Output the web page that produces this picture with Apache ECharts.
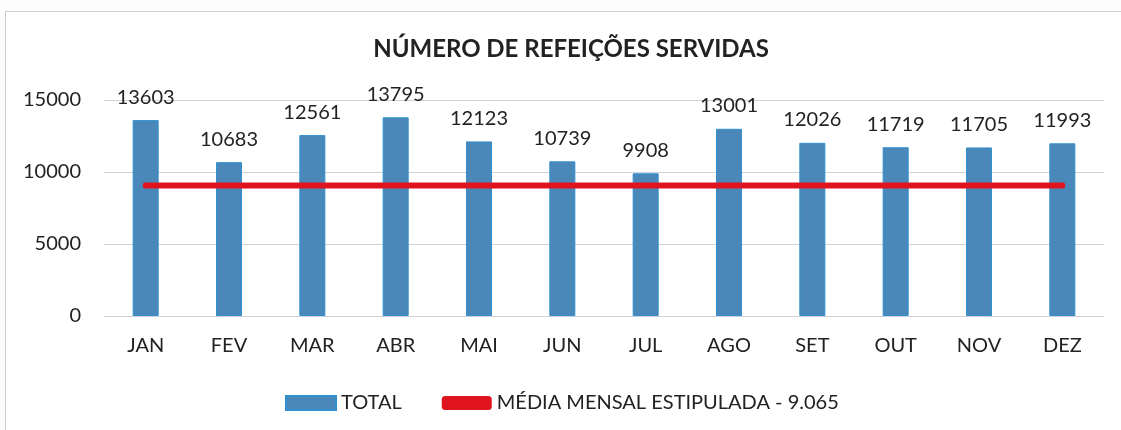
<!DOCTYPE html>
<html lang="pt">
<head>
    <meta charset="UTF-8">
    <title>Número de refeições servidas</title>
    <script src="https://cdn.jsdelivr.net/npm/echarts@6/dist/echarts.min.js"></script>
    <style>
        body { margin: 0; background: #fdfdfd; overflow: hidden; }
        #chart {
            position: absolute;
            left: 5px; top: 11px;
            width: 1132px; height: 430px;
            border: 1px solid #c9ccd2;
            box-sizing: border-box;
            background: #fff;
        }
    </style>
</head>
<body>
<div id="chart"></div>
<script>
const months = ['JAN', 'FEV', 'MAR', 'ABR', 'MAI', 'JUN', 'JUL', 'AGO', 'SET', 'OUT', 'NOV', 'DEZ'];
const totals = [13603, 10683, 12561, 13795, 12123, 10739, 9908, 13001, 12026, 11719, 11705, 11993];
const target = 9065;
const targetLine = months.map(() => target);
const yTicks = { min: 0, max: 15000, interval: 5000 };

const font = 'Lato, "Open Sans", sans-serif';
const chart = echarts.init(document.getElementById('chart'));
chart.setOption({
    animation: false,
    textStyle: { fontFamily: font },
    title: {
        text: 'NÚMERO DE REFEIÇÕES SERVIDAS',
        left: 'center', top: 20,
        textStyle: { fontSize: 24, fontWeight: 'bold', color: '#222', fontFamily: font }
    },
    grid: { left: 98, right: 32, top: 88, bottom: 124, containLabel: false },
    legend: {
        top: 376, left: 274,
        itemGap: 40,
        textStyle: { fontSize: 20, color: '#222' },
        data: [
            { name: 'TOTAL', icon: 'rect', itemWidth: 50, itemHeight: 14 },
            { name: 'MÉDIA MENSAL ESTIPULADA - 9.065', icon: 'roundRect', itemWidth: 56, itemHeight: 6 }
        ],
        itemWidth: 50, itemHeight: 14
    },
    xAxis: {
        type: 'category', data: months,
        axisLine: { lineStyle: { color: '#cfd2d8' } },
        axisTick: { show: false },
        axisLabel: { fontSize: 20, color: '#222', margin: 20 }
    },
    yAxis: {
        type: 'value', min: yTicks.min, max: yTicks.max, interval: yTicks.interval,
        axisLine: { show: false }, axisTick: { show: false },
        axisLabel: { fontSize: 20, color: '#222', margin: 23, formatter: v => String(v) },
        splitLine: { lineStyle: { color: '#cfd2d8' } }
    },
    series: [
        {
            name: 'TOTAL', type: 'bar', data: totals, barWidth: 26,
            itemStyle: { color: '#4a88ba', borderColor: '#3090d0', borderWidth: 1 },
            label: { show: true, position: 'top', distance: 13, fontSize: 20, color: '#222' }
        },
        {
            name: 'MÉDIA MENSAL ESTIPULADA - 9.065', type: 'line', data: targetLine,
            symbol: 'none',
            lineStyle: { color: '#e0141f', width: 6, cap: 'round' },
            itemStyle: { color: '#e0141f' }
        }
    ]
});
</script>
</body>
</html>
